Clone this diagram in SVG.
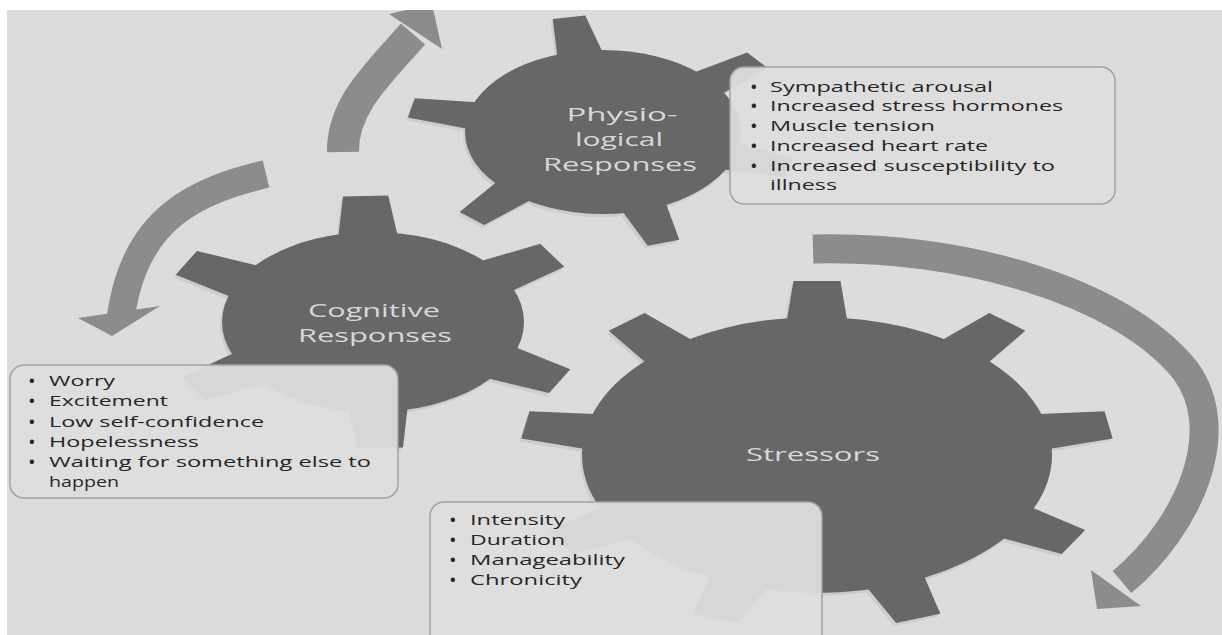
<svg xmlns="http://www.w3.org/2000/svg" width="1222" height="635" viewBox="0 0 1222 635">
<defs>
<style>
.gear{fill:#676767}
.rim{fill:#cdcdcd}
.lbl{font-family:"Open Sans","Liberation Sans",sans-serif;font-size:19px;fill:#d8d8d8;text-anchor:middle}
.box{fill:#dedede;fill-opacity:0.94;stroke:#a2a2a2;stroke-width:1.5}
.item{font-family:"Open Sans","Liberation Sans",sans-serif;font-size:15px;fill:#262626}
.bul{font-family:"Open Sans","Liberation Sans",sans-serif;font-size:15px;font-weight:bold;fill:#262626}
.arr{fill:none;stroke:#8c8c8c;stroke-linecap:butt}
.head{fill:#8c8c8c}
</style>
<clipPath id="page"><rect x="7" y="10" width="1215" height="625"/></clipPath>
<polygon id="tS" points="-13,-96 13,-96 10,-126 -10,-126"/>
<polygon id="tP" points="-17,-92 17,-92 12,-142 -12,-142"/>
<polygon id="tC" points="-20,-92 20,-92 15,-140 -15,-140"/>
<g id="gS">
<circle r="100"/>
<use href="#tS"/>
<use href="#tS" transform="rotate(40)"/>
<use href="#tS" transform="rotate(80)"/>
<use href="#tS" transform="rotate(120)"/>
<use href="#tS" transform="rotate(160)"/>
<use href="#tS" transform="rotate(200)"/>
<use href="#tS" transform="rotate(240)"/>
<use href="#tS" transform="rotate(280)"/>
<use href="#tS" transform="rotate(320)"/>
</g>
<g id="gP">
<circle r="100"/>
<use href="#tP" transform="rotate(-10)"/>
<use href="#tP" transform="rotate(52)"/>
<use href="#tP" transform="rotate(108)"/>
<use href="#tP" transform="rotate(162)"/>
<use href="#tP" transform="rotate(222)"/>
<use href="#tP" transform="rotate(282)"/>
</g>
<g id="gC">
<circle r="100"/>
<use href="#tC" transform="rotate(-2)"/>
<use href="#tC" transform="rotate(58)"/>
<use href="#tC" transform="rotate(118)"/>
<use href="#tC" transform="rotate(178)"/>
<use href="#tC" transform="rotate(238)"/>
<use href="#tC" transform="rotate(298)"/>
</g>
</defs>
<rect x="0" y="0" width="1222" height="635" fill="#ffffff"/>
<g clip-path="url(#page)">
<rect x="7" y="10" width="1215" height="625" fill="#dcdcdc"/>

<g id="connectors">
<path class="arr" stroke-width="32" d="M 343 152 C 342 105 380 72 413 34"/>
<polygon class="head" points="389,14 442,49 432,4"/>
<path class="arr" stroke-width="28" d="M 266 174 C 200 190 135 215 121 316"/>
<polygon class="head" points="78,318 160,306 112,336"/>
<path class="arr" stroke-width="29" d="M 813 249 C 960 245 1120 290 1185 370 C 1230 430 1190 525 1122 582"/>
<polygon class="head" points="1091,570 1141,606 1097,609"/>
</g>

<g id="gear-physio">
<use href="#gP" class="rim" transform="translate(601,135) scale(1.38,0.82)"/>
<use href="#gP" class="gear" transform="translate(603,132) scale(1.38,0.82)"/>
<text class="lbl" x="622" y="121" textLength="111" lengthAdjust="spacingAndGlyphs">Physio-</text>
<text class="lbl" x="619" y="146" textLength="88" lengthAdjust="spacingAndGlyphs">logical</text>
<text class="lbl" x="620" y="171" textLength="154" lengthAdjust="spacingAndGlyphs">Responses</text>
</g>

<g id="gear-cognitive">
<use href="#gC" class="rim" transform="translate(371,325) scale(1.51,0.9)"/>
<use href="#gC" class="gear" transform="translate(373,322) scale(1.51,0.9)"/>
<text class="lbl" x="374" y="317" textLength="132" lengthAdjust="spacingAndGlyphs">Cognitive</text>
<text class="lbl" x="375" y="342" textLength="154" lengthAdjust="spacingAndGlyphs">Responses</text>
</g>

<g id="gear-stressors">
<use href="#gS" class="rim" transform="translate(815,458) scale(2.35,1.38)"/>
<use href="#gS" class="gear" transform="translate(817,455) scale(2.35,1.38)"/>
<text class="lbl" x="813" y="461" textLength="134" lengthAdjust="spacingAndGlyphs">Stressors</text>
</g>

<g id="box-physio">
<rect class="box" x="730" y="67" width="385" height="137" rx="14"/>
<text class="bul" x="751" y="92">•</text>
<text class="item" x="770" y="92" textLength="223" lengthAdjust="spacingAndGlyphs">Sympathetic arousal</text>
<text class="bul" x="751" y="111">•</text>
<text class="item" x="770" y="111" textLength="293" lengthAdjust="spacingAndGlyphs">Increased stress hormones</text>
<text class="bul" x="751" y="131">•</text>
<text class="item" x="770" y="131" textLength="165" lengthAdjust="spacingAndGlyphs">Muscle tension</text>
<text class="bul" x="751" y="151">•</text>
<text class="item" x="770" y="151" textLength="218" lengthAdjust="spacingAndGlyphs">Increased heart rate</text>
<text class="bul" x="751" y="171">•</text>
<text class="item" x="770" y="171" textLength="285" lengthAdjust="spacingAndGlyphs">Increased susceptibility to</text>
<text class="item" x="770" y="190" textLength="67" lengthAdjust="spacingAndGlyphs">illness</text>
</g>

<g id="box-cognitive">
<rect class="box" x="10" y="365" width="388" height="133" rx="14"/>
<text class="bul" x="29" y="386">•</text>
<text class="item" x="49" y="386" textLength="66" lengthAdjust="spacingAndGlyphs">Worry</text>
<text class="bul" x="29" y="406">•</text>
<text class="item" x="49" y="406" textLength="119" lengthAdjust="spacingAndGlyphs">Excitement</text>
<text class="bul" x="29" y="427">•</text>
<text class="item" x="49" y="427" textLength="215" lengthAdjust="spacingAndGlyphs">Low self-confidence</text>
<text class="bul" x="29" y="447">•</text>
<text class="item" x="49" y="447" textLength="150" lengthAdjust="spacingAndGlyphs">Hopelessness</text>
<text class="bul" x="29" y="467">•</text>
<text class="item" x="49" y="467" textLength="322" lengthAdjust="spacingAndGlyphs">Waiting for something else to</text>
<text class="item" x="49" y="487" textLength="70" lengthAdjust="spacingAndGlyphs">happen</text>
</g>

<g id="box-stressors">
<rect class="box" x="430" y="502" width="392" height="150" rx="14"/>
<text class="bul" x="450" y="525">•</text>
<text class="item" x="470" y="525" textLength="95" lengthAdjust="spacingAndGlyphs">Intensity</text>
<text class="bul" x="450" y="545">•</text>
<text class="item" x="470" y="545" textLength="95" lengthAdjust="spacingAndGlyphs">Duration</text>
<text class="bul" x="450" y="565">•</text>
<text class="item" x="470" y="565" textLength="155" lengthAdjust="spacingAndGlyphs">Manageability</text>
<text class="bul" x="450" y="585">•</text>
<text class="item" x="470" y="585" textLength="112" lengthAdjust="spacingAndGlyphs">Chronicity</text>
</g>
</g>
</svg>
